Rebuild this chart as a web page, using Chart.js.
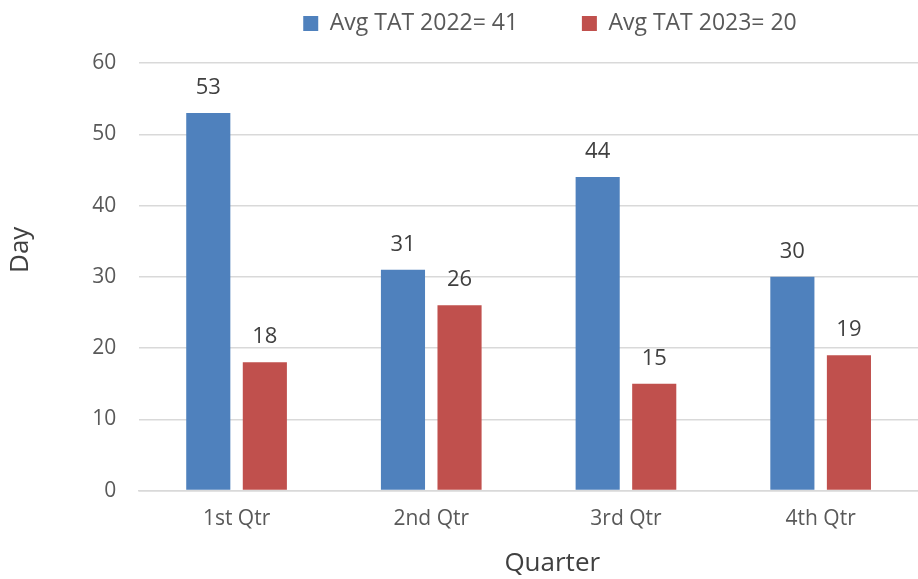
<!DOCTYPE html>
<html>
<head>
<meta charset="utf-8">
<script src="https://cdn.jsdelivr.net/npm/chart.js@4.4.0/dist/chart.umd.min.js"></script>
<style>
  html, body { margin: 0; padding: 0; background: #fff; }
  #wrap { width: 918px; height: 579px; }
</style>
</head>
<body>
<div id="wrap"><canvas id="tatChart" width="918" height="579"></canvas></div>
<script>
'use strict';

// chart data
var quarters = ['1st Qtr', '2nd Qtr', '3rd Qtr', '4th Qtr'];
var tat2022 = [53, 31, 44, 30];
var tat2023 = [18, 26, 15, 19];
var seriesNames = ['Avg TAT 2022= 41', 'Avg TAT 2023= 20'];
var yTicks = [0, 10, 20, 30, 40, 50, 60];

var fontName = '"Open Sans", "Liberation Sans", sans-serif';
var textGray = '#595959';

// draws the value above each bar
var barLabels = {
  id: 'barLabels',
  afterDatasetsDraw: function(chart) {
    var ctx = chart.ctx;
    ctx.save();
    ctx.font = '22px ' + fontName;
    ctx.fillStyle = '#404040';
    ctx.textAlign = 'center';
    ctx.textBaseline = 'alphabetic';
    chart.data.datasets.forEach(function(ds, i) {
      chart.getDatasetMeta(i).data.forEach(function(bar, j) {
        ctx.fillText(ds.data[j], bar.x, bar.y - 19);
      });
    });
    ctx.restore();
  }
};

// extra gap under the legend, and shift it right like the original
var legendTweak = {
  id: 'legendTweak',
  beforeInit: function(chart) {
    var fit = chart.legend.fit;
    chart.legend.fit = function() {
      fit.call(this);
      this.height += 18;
    };
  },
  afterLayout: function(chart) {
    var lg = chart.legend;
    lg.left = 2 * 555 - lg.right - 10;
  }
};

var ctx = document.getElementById('tatChart').getContext('2d');
var tatChart = new Chart(ctx, { //eslint-disable-line
  type: 'bar',
  data: {
    labels: quarters,
    datasets: [
      {
        label: seriesNames[0],
        data: tat2022,
        backgroundColor: '#4F81BD'
      },
      {
        label: seriesNames[1],
        data: tat2023,
        backgroundColor: '#C0504D'
      }
    ]
  },
  options: {
    responsive: false,
    animation: false,
    categoryPercentage: 0.581,
    barPercentage: 0.78,
    layout: { padding: { left: 4, right: 0, top: 2, bottom: 0 } },
    plugins: {
      legend: {
        position: 'top',
        labels: {
          boxWidth: 15,
          boxHeight: 15,
          padding: 10,
          color: textGray,
          font: { family: fontName, size: 23 },
          generateLabels: function(chart) {
            var items = Chart.defaults.plugins.legend.labels.generateLabels(chart);
            items[0].text = items[0].text + '         ';
            return items;
          }
        }
      },
      tooltip: { enabled: false }
    },
    scales: {
      x: {
        grid: { display: false, drawTicks: false },
        border: { color: '#d9d9d9', width: 1.5 },
        ticks: { color: textGray, padding: 16, font: { family: fontName, size: 21 } },
        // leading spaces nudge the title right, as in the original
        title: { display: true, text: '       Quarter', color: '#404040', padding: { top: 0, bottom: 0 }, font: { family: fontName, size: 26 } }
      },
      y: {
        min: 0,
        max: 60,
        afterBuildTicks: function(axis) {
          axis.ticks = yTicks.map(function(v) { return { value: v }; });
        },
        grid: { color: '#d9d9d9', lineWidth: 1.5, drawTicks: false },
        border: { display: false },
        ticks: { color: textGray, padding: 23, font: { family: fontName, size: 21 } },
        title: { display: true, text: '        Day', color: '#404040', padding: { top: 1, bottom: 33 }, font: { family: fontName, size: 26 } }
      }
    }
  },
  plugins: [barLabels, legendTweak]
});
</script>
</body>
</html>
